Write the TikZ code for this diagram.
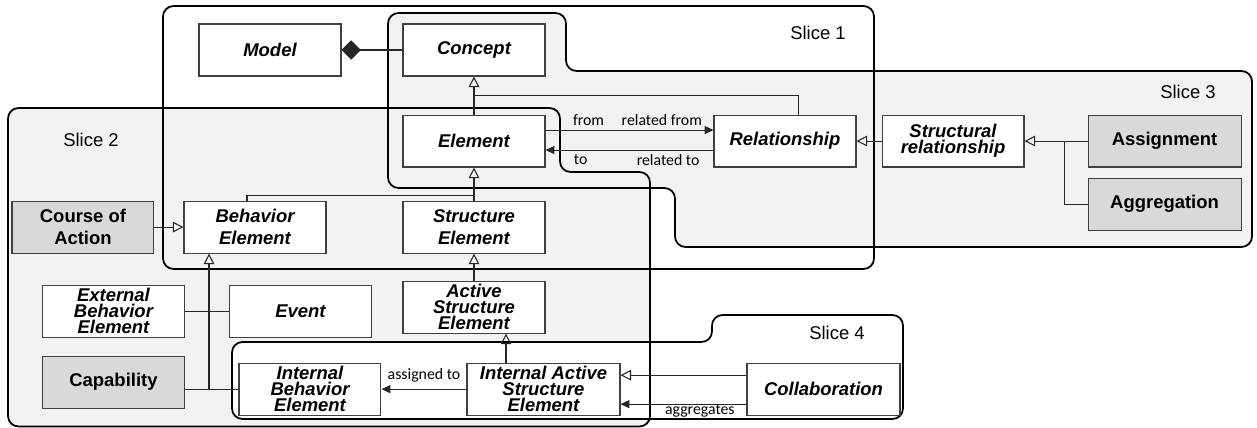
\documentclass[tikz,border=0pt]{standalone}
\usepackage{fontspec}
\setmainfont{Liberation Sans}
\newfontfamily\rolefont{Carlito}
\usetikzlibrary{arrows.meta, positioning, calc}
\definecolor{slicegrey}{HTML}{F2F2F2}
\definecolor{boxgrey}{HTML}{D9D9D9}
\definecolor{edgegrey}{HTML}{404040}

\begin{document}
\begin{tikzpicture}[
    x=0.02cm, y=-0.02cm,
    abstract/.style={rectangle, draw=edgegrey, fill=white, line width=0.6pt, minimum width=2.84cm, minimum height=1.04cm, align=center, inner sep=1pt, font=\fontsize{10.5}{12.8}\selectfont\bfseries\itshape},
    tight/.style={font=\fontsize{10.5}{9}\selectfont\bfseries\itshape},
    wide/.style={minimum width=3.06cm},
    special/.style={abstract, fill=boxgrey, font=\fontsize{10.5}{12.8}\selectfont\bfseries},
    slicename/.style={font=\fontsize{10.5}{12}\selectfont},
    rolename/.style={font=\rolefont\fontsize{9}{10}\selectfont, inner sep=2pt},
    link/.style={draw=black!85, line width=0.6pt},
    inherit/.style={link, -{Triangle[open, length=6pt, width=6pt]}},
    navigate/.style={link, -{Triangle[length=5pt, width=4.5pt]}},
    composition/.style={link, {Diamond[length=11pt, width=11pt]}-},
    sliceline/.style={draw=black, line width=1pt, rounded corners=6pt},
    slicetwoarea/.style={insert path={(8,108) -- (560,108) -- (560,172) -- (650,172) -- (650,426.5) -- (8,426.5) -- cycle}},
    slicethreearea/.style={insert path={(388,13) -- (566,13) -- (566,71) -- (1252,71) -- (1252,247) -- (675,247) -- (675,188) -- (388,188) -- cycle}},
    slicefourarea/.style={insert path={(232,342) -- (712,342) -- (712,315) -- (903,315) -- (903,419) -- (232,419) -- cycle}}
]
\useasboundingbox (0,0) rectangle (1257,428);

% Slice areas: fills first, outlines on top
\fill[slicegrey, rounded corners=6pt, slicetwoarea];
\fill[slicegrey, rounded corners=6pt, slicethreearea];
\fill[white, rounded corners=6pt, slicefourarea];
\draw[sliceline, slicetwoarea];
\draw[sliceline, slicethreearea];
\draw[sliceline, slicefourarea];
\draw[sliceline] (163,6) rectangle (874,269);

\node[slicename] (slice1) at (818,33) {Slice 1};
\node[slicename] (slice2) at (91,140) {Slice 2};
\node[slicename] (slice3) at (1188,92) {Slice 3};
\node[slicename] (slice4) at (837,333) {Slice 4};

% Row 1: Model and Concept
\node[abstract] (concept) at (474,50) {Concept};
\node[abstract, left=1.22cm of concept] (model) {Model};

% Row 2: Element and relationships
\node[abstract, below=0.76cm of concept] (element) {Element};
\node[abstract, right=3.36cm of element] (relationship) {Relationship};
\node[abstract, tight, right=0.5cm of relationship] (structrel) {Structural\\relationship};
\node[special, wide, right=1.26cm of structrel] (assignment) {Assignment};
\node[special, wide, below=0.2cm of assignment] (aggregation) {Aggregation};

% Row 3: Behavior and Structure
\node[abstract, below=0.66cm of element] (structure) {Structure\\Element};
\node[abstract, left=1.52cm of structure] (behavior) {Behavior\\Element};
\node[special, left=0.58cm of behavior] (course) {Course of\\Action};

% Row 4
\node[abstract, tight, below=0.54cm of structure] (active) {Active\\Structure\\Element};
\node[abstract, below=0.62cm of behavior, xshift=0.91cm] (event) {Event};
\node[abstract, tight, left=0.88cm of event] (external) {External\\Behavior\\Element};

% Row 5
\node[special, below=0.36cm of external] (capability) {Capability};
\node[abstract, tight, below=0.5cm of event, xshift=0.19cm] (internalbeh) {Internal\\Behavior\\Element};
\node[abstract, tight, wide, right=1.7cm of internalbeh] (internalact) {Internal Active\\Structure\\Element};
\node[abstract, wide, right=2.52cm of internalact] (collab) {Collaboration};

% Composition
\draw[composition] (model) -- (concept);

% Generalisations to Concept
\coordinate (cj) at ($(concept.south)!0.5!(element.north)$);
\draw[inherit] (element) -- (concept);
\draw[link] ([xshift=0.27cm]relationship.north) |- (cj);

% Element <-> Relationship
\draw[navigate] ([yshift=0.22cm]element.east) -- ([yshift=0.22cm]relationship.west)
    node[rolename, above right, pos=0.14] (fromlbl) {from}
    node[rolename, above left, pos=0.955] (relfromlbl) {related from};
\draw[navigate] ([yshift=-0.18cm]relationship.west) -- ([yshift=-0.18cm]element.east)
    node[rolename, below left, pos=0.06] (reltolbl) {related to}
    node[rolename, below right, pos=0.855] (tolbl) {to};

% Slice 3 generalisations
\coordinate (sj) at ($(structrel.east)!0.63!(assignment.west)$);
\draw[inherit] (structrel) -- (relationship);
\draw[inherit] (assignment) -- (structrel);
\draw[link] (aggregation.west) -| (sj);

% Slice 2 generalisations
\coordinate (ej) at ([yshift=0.1cm]structure.north);
\coordinate (bj) at ([xshift=-0.92cm]behavior.south);
\draw[inherit] (structure) -- (element);
\draw[link] ([xshift=-0.16cm]behavior.north) |- (ej);
\draw[inherit] (course) -- (behavior);
\draw[inherit] (active) -- (structure);
\draw[link] (external) -- (event);
\draw[link] (capability.east |- internalbeh.west) -- (internalbeh);
\draw[inherit] (bj |- internalbeh.west) -- (bj);

% Slice 4
\coordinate (aj) at ([xshift=-0.75cm]internalact.north);
\draw[inherit] (aj) -- (aj |- active.south);
\draw[navigate] (internalact) -- (internalbeh)
    node[rolename, above, midway, yshift=0.06cm] (assignedlbl) {assigned to};
\draw[inherit] ([yshift=0.28cm]collab.west) -- ([yshift=0.28cm]internalact.east);
\draw[navigate] ([yshift=-0.3cm]collab.west) -- ([yshift=-0.3cm]internalact.east)
    node[rolename, below, pos=0.37, yshift=0.08cm] (aggrlbl) {aggregates};

\end{tikzpicture}
\end{document}
